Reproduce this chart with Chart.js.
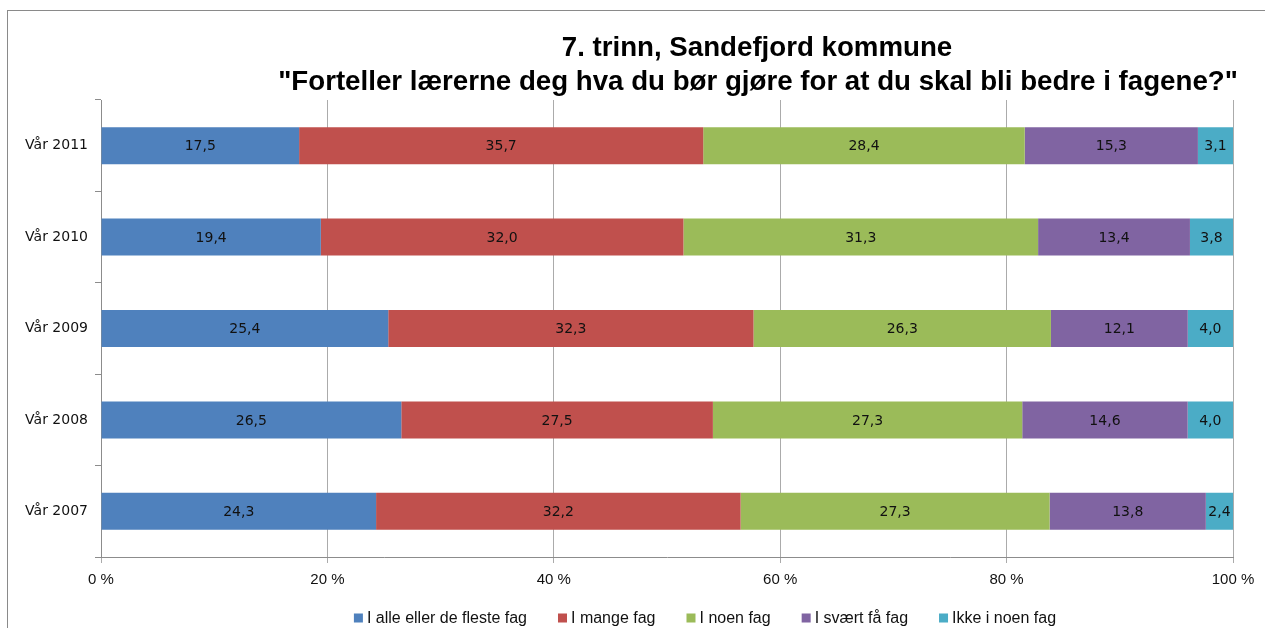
<!DOCTYPE html>
<html><head><meta charset="utf-8">
<script src="https://cdn.jsdelivr.net/npm/chart.js@4/dist/chart.umd.min.js"></script>
<style>
html,body{margin:0;padding:0;background:#fff;overflow:hidden;}
#wrap{position:relative;width:1265px;height:628px;overflow:hidden;}
#frame{position:absolute;left:7px;top:10px;width:1400px;height:800px;border:1px solid #8a8a8a;pointer-events:none;}
canvas{position:absolute;left:0;top:0;}
</style></head><body>
<div id="wrap"><canvas id="c" width="1265" height="628"></canvas><div id="frame"></div></div>
<script>
const categories = ['Vår 2011','Vår 2010','Vår 2009','Vår 2008','Vår 2007'];
const seriesNames = ['I alle eller de fleste fag','I mange fag','I noen fag','I svært få fag','Ikke i noen fag'];
const allOrMost = [17.5,19.4,25.4,26.5,24.3];
const many = [35.7,32.0,32.3,27.5,32.2];
const some = [28.4,31.3,26.3,27.3,27.3];
const veryFew = [15.3,13.4,12.1,14.6,13.8];
const none = [3.1,3.8,4.0,4.0,2.4];
const xTicks = [0,20,40,60,80,100];
const titleLines = ['7. trinn, Sandefjord kommune','"Forteller lærerne deg hva du bør gjøre for at du skal bli bedre i fagene?"'];
const colors = ['#4f81bd','#c0504d','#9bbb59','#8064a2','#4bacc6'];

const raw = [allOrMost, many, some, veryFew, none];
const totals = categories.map((_,j)=>raw.reduce((s,a)=>s+a[j],0));
const datasets = raw.map((arr,i)=>({
  label: seriesNames[i],
  data: arr.map((v,j)=>v/totals[j]*100),
  backgroundColor: colors[i],
  borderWidth: 0,
  categoryPercentage: 1,
  barPercentage: 0.405
}));

const fmt = v => v.toFixed(1).replace('.', ',');

const decor = {
  id:'decor',
  afterDatasetsDraw(chart){
    const ctx = chart.ctx;
    ctx.save();
    ctx.font = '14px "DejaVu Sans"';
    ctx.fillStyle = '#111';
    ctx.textAlign = 'center';
    ctx.textBaseline = 'middle';
    chart.data.datasets.forEach((ds,i)=>{
      chart.getDatasetMeta(i).data.forEach((bar,j)=>{
        ctx.fillText(fmt(raw[i][j]), (bar.x+bar.base)/2, bar.y+1);
      });
    });
    ctx.restore();
  },
  afterDraw(chart){
    const ctx = chart.ctx;
    ctx.save();
    // title
    ctx.fillStyle = '#000';
    ctx.textAlign = 'center';
    ctx.textBaseline = 'alphabetic';
    ctx.font = 'bold 22px "Liberation Sans"';
    const w = ctx.measureText(titleLines[1]).width;
    const size = 22 * 960 / w;
    ctx.font = 'bold ' + size.toFixed(2) + 'px "Liberation Sans"';
    ctx.fillText(titleLines[0], 757, 56);
    ctx.fillText(titleLines[1], 758, 90);
    // legend
    ctx.font = '16px "Liberation Sans"';
    ctx.textAlign = 'left';
    ctx.textBaseline = 'middle';
    const box = 9, gap = 4, sep = 31;
    const widths = seriesNames.map(n=>ctx.measureText(n).width);
    const total = widths.reduce((s,w)=>s+box+gap+w,0) + sep*(seriesNames.length-1);
    let x = 705 - total/2;
    const y = 618;
    seriesNames.forEach((n,i)=>{
      ctx.fillStyle = colors[i];
      ctx.fillRect(x, y-box/2, box, box);
      ctx.fillStyle = '#111';
      ctx.fillText(n, x+box+gap, y+1);
      x += box+gap+widths[i]+sep;
    });
    ctx.restore();
  }
};

new Chart(document.getElementById('c'), {
  type:'bar',
  data:{ labels: categories, datasets },
  options:{
    indexAxis:'y',
    responsive:false,
    animation:false,
    devicePixelRatio:1,
    layout:{ padding:{ left:0, right:32, top:100, bottom:0 } },
    plugins:{ legend:{display:false}, title:{display:false}, tooltip:{enabled:false} },
    scales:{
      x:{
        stacked:true, min:0, max:100,
        afterBuildTicks(scale){ scale.ticks = xTicks.map(v=>({value:v})); },
        afterFit(scale){ scale.height = 71; },
        ticks:{ callback:v=>v+' %', font:{family:'"Liberation Sans"', size:15}, color:'#111', padding:8, maxRotation:0 },
        grid:{ color:'#ababab', tickLength:6, drawOnChartArea:true },
        border:{ color:'#8c8c8c' }
      },
      y:{
        stacked:true,
        afterFit(scale){ scale.width = 101; },
        ticks:{ font:{family:'"DejaVu Sans"', size:14}, color:'#111', padding:7 },
        grid:{ offset:true, drawOnChartArea:false, tickLength:6, color:'#8c8c8c' },
        border:{ color:'#8c8c8c' }
      }
    }
  },
  plugins:[decor]
});
</script>
</body></html>
